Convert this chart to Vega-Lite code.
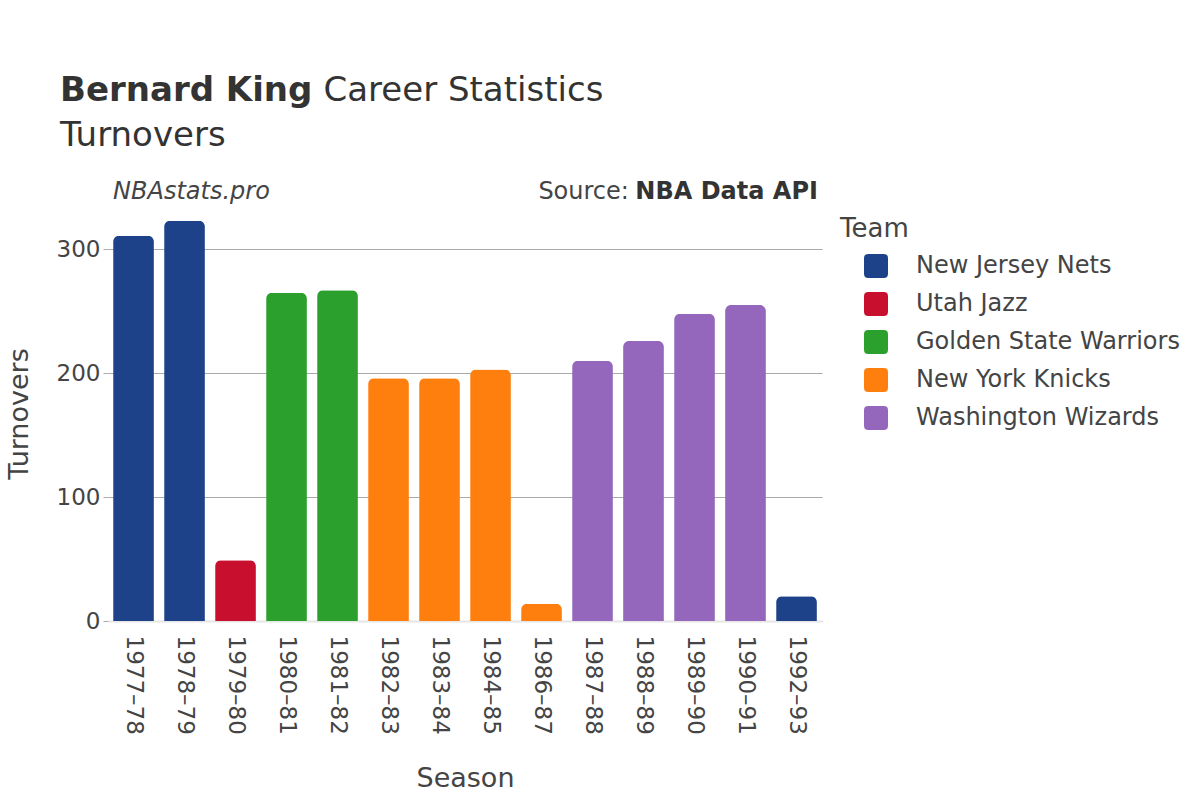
{
  "$schema": "https://vega.github.io/schema/vega-lite/v6.json",
  "width": 714,
  "height": 415,
  "autosize": {"type": "none"},
  "padding": {"left": 108, "top": 206, "right": 378, "bottom": 179},
  "background": "white",
  "config": {
    "font": "DejaVu Sans",
    "view": {"stroke": null}
  },
  "title": {
    "text": "Bernard King",
    "subtitle": ["\u200b\u2003\u2003\u2003\u2003\u2003\u2003\u2003\u2002\u2005Career Statistics", "Turnovers"],
    "anchor": "start",
    "frame": "group",
    "dx": -48,
    "offset": 27,
    "font": "DejaVu Sans",
    "fontSize": 34,
    "fontWeight": "bold",
    "color": "#333333",
    "subtitleFont": "DejaVu Sans",
    "subtitleFontSize": 34,
    "subtitleColor": "#333333",
    "subtitleFontWeight": "normal",
    "subtitlePadding": -34,
    "subtitleLineHeight": 45
  },
  "data": {
    "values": [
      {"season": "1977–78", "team": "New Jersey Nets", "tov": 311},
      {"season": "1978–79", "team": "New Jersey Nets", "tov": 323},
      {"season": "1979–80", "team": "Utah Jazz", "tov": 49},
      {"season": "1980–81", "team": "Golden State Warriors", "tov": 265},
      {"season": "1981–82", "team": "Golden State Warriors", "tov": 267},
      {"season": "1982–83", "team": "New York Knicks", "tov": 196},
      {"season": "1983–84", "team": "New York Knicks", "tov": 196},
      {"season": "1984–85", "team": "New York Knicks", "tov": 203},
      {"season": "1986–87", "team": "New York Knicks", "tov": 14},
      {"season": "1987–88", "team": "Washington Wizards", "tov": 210},
      {"season": "1988–89", "team": "Washington Wizards", "tov": 226},
      {"season": "1989–90", "team": "Washington Wizards", "tov": 248},
      {"season": "1990–91", "team": "Washington Wizards", "tov": 255},
      {"season": "1992–93", "team": "New Jersey Nets", "tov": 20}
    ]
  },
  "layer": [
    {
      "mark": {"type": "bar", "cornerRadiusTopLeft": 6, "cornerRadiusTopRight": 6},
      "encoding": {
        "x": {
          "field": "season",
          "type": "nominal",
          "scale": {"paddingInner": 0.2, "paddingOuter": 0.1},
          "axis": {
            "title": "Season",
            "titleFontSize": 27,
            "titleFontWeight": "normal",
            "titleColor": "#444444",
            "titlePadding": 31,
            "labelAngle": 90,
            "labelFontSize": 23,
            "labelColor": "#444444",
            "labelPadding": 14,
            "ticks": false,
            "domain": true,
            "domainColor": "#e6e6e6",
            "domainWidth": 2
          }
        },
        "y": {
          "field": "tov",
          "type": "quantitative",
          "scale": {"domain": [0, 335], "nice": false},
          "axis": {
            "title": "Turnovers",
            "titleFontSize": 27,
            "titleFontWeight": "normal",
            "titleColor": "#444444",
            "titlePadding": 23,
            "values": [0, 100, 200, 300],
            "grid": true,
            "gridColor": "#aaaaaa",
            "domain": false,
            "ticks": true,
            "tickColor": "#aaaaaa",
            "tickSize": 5,
            "labelFontSize": 23,
            "labelColor": "#444444",
            "labelPadding": 3
          }
        },
        "color": {
          "field": "team",
          "type": "nominal",
          "scale": {
            "domain": ["New Jersey Nets", "Utah Jazz", "Golden State Warriors", "New York Knicks", "Washington Wizards"],
            "range": ["#1d428a", "#c8102e", "#2ca02c", "#ff7f0e", "#9467bd"]
          },
          "legend": {
            "title": "Team",
            "orient": "right",
            "offset": 8,
            "padding": 10,
            "titleFontSize": 26,
            "titleFontWeight": "normal",
            "titleColor": "#444444",
            "titlePadding": 12,
            "labelFontSize": 24,
            "labelColor": "#444444",
            "labelOffset": 28,
            "labelLimit": 400,
            "symbolOffset": 24,
            "symbolType": "M -0.65 -1 L 0.65 -1 Q 1 -1 1 -0.65 L 1 0.65 Q 1 1 0.65 1 L -0.65 1 Q -1 1 -1 0.65 L -1 -0.65 Q -1 -1 -0.65 -1 Z",
            "symbolSize": 576,
            "symbolStrokeWidth": 0,
            "symbolOpacity": 1,
            "rowPadding": 14
          }
        }
      }
    },
    {
      "data": {"values": [{"label": "NBAstats.pro"}]},
      "mark": {"type": "text", "align": "left", "baseline": "alphabetic", "fontSize": 24, "fontStyle": "italic", "color": "#444444"},
      "encoding": {
        "x": {"datum": "1977–78", "type": "nominal", "bandPosition": 0},
        "y": {"datum": 341, "type": "quantitative"},
        "text": {"field": "label"}
      }
    },
    {
      "data": {"values": [{"label": "NBA Data API"}]},
      "mark": {"type": "text", "align": "right", "baseline": "alphabetic", "fontSize": 24, "fontWeight": "bold", "color": "#333333", "dx": 1},
      "encoding": {
        "x": {"datum": "1992–93", "type": "nominal", "bandPosition": 1},
        "y": {"datum": 341, "type": "quantitative"},
        "text": {"field": "label"}
      }
    },
    {
      "data": {"values": [{"label": "Source:"}]},
      "mark": {"type": "text", "align": "right", "baseline": "alphabetic", "fontSize": 24, "color": "#444444", "dx": -188},
      "encoding": {
        "x": {"datum": "1992–93", "type": "nominal", "bandPosition": 1},
        "y": {"datum": 341, "type": "quantitative"},
        "text": {"field": "label"}
      }
    }
  ]
}
